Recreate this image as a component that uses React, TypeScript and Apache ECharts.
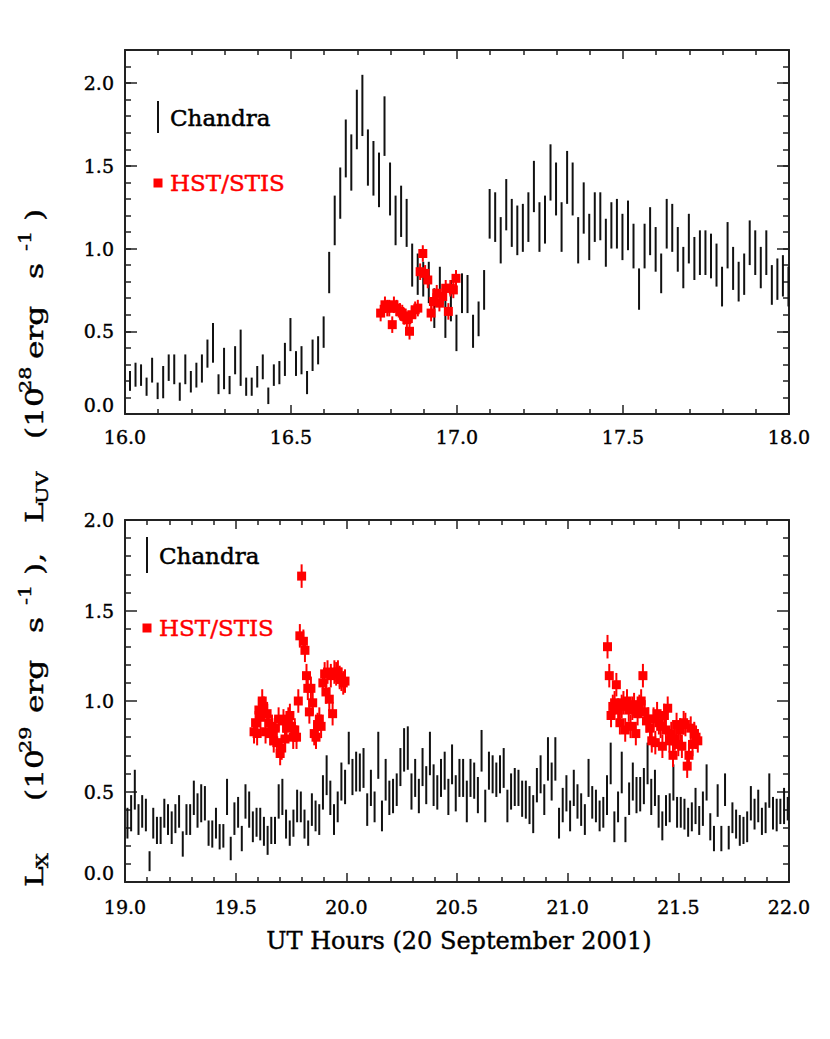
import React, { useEffect, useRef } from 'react';
import * as echarts from 'echarts';

// ---------- data ----------
const BIN_HOURS = 1 / 60; // Chandra 1-minute bins

// Top panel (16-18 UT), Chandra error bars: upper / lower ends (10^28 erg/s)
const chandraTopStart = 16.015;
const chandraTopHi = [
  0.26, 0.31, 0.30, 0.22, 0.34, 0.19, 0.29, 0.36, 0.36, 0.19, 0.36, 0.26, 0.31, 0.36, 0.45, 0.55,
  0.24, 0.40, 0.23, 0.41, 0.51, 0.22, 0.22, 0.29, 0.36, 0.16, 0.30, 0.32, 0.43, 0.58, 0.38, 0.41,
  0.26, 0.45, 0.47, 0.59, 0.98, 1.32, 1.49, 1.78, 1.69, 1.96, 2.05, 1.72, 1.65, 1.58, 1.92, 1.52,
  1.32, 1.38, 1.30, 1.03, 0.97, 0.92, 0.92, 0.76, 0.89, 0.78, 0.81, 0.60, 0.85, 0.84, 0.60, 0.68,
  0.87, 1.36, 1.34, 1.19, 1.42, 1.30, 1.26, 1.27, 1.34, 1.53, 1.28, 1.32, 1.63, 1.52, 1.28, 1.59,
  1.52, 1.19, 1.40, 1.21, 1.34, 1.34, 1.18, 1.28, 1.30, 1.21, 1.29, 1.15, 0.88, 1.15, 1.25, 1.13,
  0.97, 1.30, 1.27, 1.13, 1.01, 1.21, 1.07, 1.11, 1.11, 1.09, 1.03, 0.89, 1.16, 1.01, 0.92, 0.97,
  1.17, 1.11, 1.01, 1.11, 0.90, 0.94, 0.96, 0.89,
];
const chandraTopLo = [
  0.14, 0.165, 0.17, 0.11, 0.19, 0.09, 0.095, 0.20, 0.18, 0.08, 0.18, 0.13, 0.16, 0.19, 0.28, 0.31,
  0.12, 0.15, 0.12, 0.24, 0.17, 0.11, 0.11, 0.16, 0.21, 0.06, 0.17, 0.18, 0.23, 0.38, 0.23, 0.24,
  0.12, 0.26, 0.30, 0.40, 0.73, 1.02, 1.18, 1.43, 1.35, 1.60, 1.68, 1.38, 1.32, 1.25, 1.56, 1.20,
  1.02, 1.07, 1.01, 0.77, 0.72, 0.71, 0.67, 0.52, 0.65, 0.46, 0.56, 0.38, 0.61, 0.61, 0.40, 0.47,
  0.63, 1.06, 1.04, 0.91, 1.11, 1.01, 0.96, 0.98, 1.04, 1.22, 0.98, 1.03, 1.29, 1.20, 0.98, 1.27,
  1.20, 0.91, 1.09, 0.93, 1.04, 1.05, 0.89, 1.00, 1.00, 0.93, 0.99, 0.88, 0.63, 0.88, 0.96, 0.86,
  0.73, 1.00, 0.98, 0.86, 0.76, 0.91, 0.81, 0.84, 0.84, 0.82, 0.77, 0.65, 0.88, 0.75, 0.68, 0.72,
  0.90, 0.84, 0.76, 0.84, 0.66, 0.69, 0.71, 0.65,
];

// Bottom panel (19-22 UT), Chandra error bars (10^29 erg/s)
const chandraBotStart = 19.011;
const chandraBotHi = [
  0.41, 0.48, 0.62, 0.43, 0.48, 0.46, 0.17, 0.41, 0.36, 0.36, 0.46, 0.43, 0.39, 0.43, 0.48, 0.28,
  0.43, 0.43, 0.56, 0.49, 0.54, 0.53, 0.34, 0.34, 0.41, 0.32, 0.32, 0.57, 0.25, 0.44, 0.47, 0.31,
  0.54, 0.50, 0.39, 0.41, 0.41, 0.36, 0.31, 0.36, 0.36, 0.54, 0.57, 0.40, 0.34, 0.40, 0.51, 0.50,
  0.40, 0.34, 0.49, 0.45, 0.43, 0.59, 0.70, 0.56, 0.43, 0.50, 0.66, 0.62, 0.83, 0.68, 0.72, 0.71,
  0.74, 0.49, 0.62, 0.50, 0.83, 0.45, 0.68, 0.56, 0.57, 0.60, 0.74, 0.85, 0.86, 0.60, 0.68, 0.57,
  0.74, 0.64, 0.83, 0.65, 0.59, 0.68, 0.72, 0.57, 0.76, 0.59, 0.68, 0.68, 0.56, 0.68, 0.66, 0.58,
  0.84, 0.51, 0.72, 0.70, 0.66, 0.70, 0.74, 0.51, 0.60, 0.63, 0.62, 0.56, 0.56, 0.53, 0.48, 0.63,
  0.70, 0.54, 0.80, 0.66, 0.80, 0.41, 0.52, 0.59, 0.45, 0.62, 0.54, 0.49, 0.43, 0.68, 0.53, 0.51,
  0.45, 0.47, 0.59, 0.77, 0.39, 0.50, 0.72, 0.36, 0.55, 0.66, 0.58, 0.58, 0.63, 0.77, 0.57, 0.62,
  0.48, 0.39, 0.48, 0.49, 0.65, 0.47, 0.47, 0.46, 0.41, 0.44, 0.52, 0.42, 0.50, 0.65, 0.38, 0.31,
  0.54, 0.31, 0.60, 0.31, 0.44, 0.40, 0.37, 0.36, 0.39, 0.53, 0.46, 0.51, 0.41, 0.44, 0.60, 0.47,
  0.46, 0.46, 0.52, 0.47,
];
const chandraBotLo = [
  0.24, 0.28, 0.40, 0.26, 0.30, 0.28, 0.06, 0.24, 0.21, 0.21, 0.30, 0.26, 0.21, 0.27, 0.30, 0.14,
  0.26, 0.26, 0.37, 0.30, 0.33, 0.34, 0.20, 0.19, 0.24, 0.18, 0.19, 0.37, 0.12, 0.26, 0.30, 0.17,
  0.35, 0.30, 0.22, 0.25, 0.23, 0.20, 0.15, 0.21, 0.21, 0.35, 0.37, 0.24, 0.20, 0.25, 0.33, 0.33,
  0.24, 0.20, 0.31, 0.28, 0.26, 0.40, 0.48, 0.37, 0.26, 0.33, 0.45, 0.43, 0.65, 0.48, 0.50, 0.50,
  0.52, 0.31, 0.42, 0.33, 0.57, 0.28, 0.45, 0.37, 0.38, 0.42, 0.53, 0.61, 0.62, 0.40, 0.47, 0.38,
  0.53, 0.43, 0.59, 0.42, 0.40, 0.47, 0.51, 0.37, 0.54, 0.39, 0.47, 0.47, 0.33, 0.47, 0.46, 0.38,
  0.61, 0.33, 0.51, 0.49, 0.47, 0.49, 0.52, 0.33, 0.40, 0.42, 0.42, 0.36, 0.35, 0.32, 0.27, 0.44,
  0.49, 0.37, 0.56, 0.45, 0.56, 0.24, 0.33, 0.39, 0.28, 0.42, 0.35, 0.31, 0.26, 0.47, 0.35, 0.33,
  0.28, 0.30, 0.37, 0.54, 0.22, 0.33, 0.49, 0.22, 0.37, 0.45, 0.38, 0.39, 0.43, 0.54, 0.37, 0.42,
  0.30, 0.23, 0.31, 0.33, 0.45, 0.30, 0.30, 0.29, 0.25, 0.28, 0.32, 0.26, 0.31, 0.45, 0.23, 0.17,
  0.36, 0.17, 0.42, 0.18, 0.27, 0.24, 0.20, 0.21, 0.22, 0.34, 0.29, 0.33, 0.26, 0.27, 0.41, 0.29,
  0.28, 0.32, 0.32, 0.34,
];

// HST/STIS points (time in UT hours, luminosity)
const hstTopT = [
  16.770, 16.783, 16.790, 16.796, 16.805, 16.810, 16.818, 16.828, 16.835, 16.841, 16.849, 16.857,
  16.864, 16.874, 16.882, 16.889, 16.897, 16.904, 16.912, 16.922, 16.929, 16.939, 16.947, 16.957,
  16.966, 16.974, 16.980, 16.989, 16.997,
];
const hstTopV = [
  0.61, 0.66, 0.64, 0.64, 0.54, 0.66, 0.64, 0.62, 0.61, 0.59, 0.57, 0.50,
  0.60, 0.63, 0.64, 0.86, 0.97, 0.85, 0.81, 0.61, 0.68, 0.73, 0.67, 0.71,
  0.76, 0.62, 0.76, 0.75, 0.82,
];
const hstBotT = [
  19.583, 19.590, 19.597, 19.605, 19.612, 19.620, 19.627, 19.635, 19.642, 19.650, 19.657, 19.664,
  19.672, 19.679, 19.686, 19.694, 19.701, 19.708, 19.716, 19.723, 19.730, 19.738, 19.745, 19.752,
  19.760, 19.767, 19.775, 19.783, 19.790, 19.798, 19.806, 19.813, 19.820, 19.826, 19.833, 19.840,
  19.848, 19.855, 19.863, 19.870, 19.878, 19.886, 19.894, 19.902, 19.908, 19.915, 19.923, 19.930,
  19.938, 19.946, 19.954, 19.962, 19.970, 19.978, 19.986, 19.994,
  21.180, 21.188, 21.196, 21.204, 21.212, 21.220, 21.228, 21.236, 21.244, 21.252, 21.260, 21.268,
  21.276, 21.284, 21.292, 21.300, 21.308, 21.316, 21.324, 21.332, 21.340, 21.348, 21.356, 21.364,
  21.372, 21.380, 21.388, 21.396, 21.404, 21.412, 21.420, 21.428, 21.436, 21.444, 21.452, 21.460,
  21.468, 21.476, 21.484, 21.492, 21.500, 21.508, 21.516, 21.524, 21.532, 21.540, 21.548, 21.556,
  21.564, 21.572, 21.580, 21.588,
];
const hstBotV = [
  0.83, 0.88, 0.82, 0.95, 0.91, 1.00, 0.96, 0.83, 0.93, 0.88, 0.82, 0.86,
  0.78, 0.85, 0.77, 0.90, 0.71, 0.74, 0.89, 0.79, 0.85, 0.90, 0.92, 0.86,
  0.80, 0.84, 0.80, 1.00, 1.36, 1.69, 1.33, 1.28, 1.14, 1.07, 0.94, 1.07,
  0.99, 0.82, 0.80, 0.87, 0.90, 0.86, 1.10, 1.15, 1.05, 1.16, 1.01, 1.14,
  0.93, 1.16, 1.15, 1.16, 1.13, 1.12, 1.10, 1.11,
  1.30, 1.14, 0.92, 0.97, 0.99, 1.09, 0.95, 0.88, 0.97, 0.99, 0.84, 1.00,
  0.95, 0.86, 0.96, 0.98, 0.82, 0.93, 0.97, 1.00, 1.14, 0.94, 0.89, 0.90,
  0.85, 0.78, 0.90, 0.77, 0.93, 0.88, 0.86, 0.75, 0.92, 0.84, 0.96, 0.78,
  0.82, 0.70, 0.79, 0.87, 0.76, 0.84, 0.75, 0.88, 0.87, 0.64, 0.70, 0.85,
  0.76, 0.82, 0.80, 0.78,
];
const hstTopErr = 0.05;
const hstBotErr = 0.065;

// Axes
const topXRange = [16, 18];
const botXRange = [19, 22];
const topYRange = [0, 2.2];
const botYRange = [0, 2];
const majorStep = 0.5;
const minorStep = 0.1;

const legendLabels = ['Chandra', 'HST/STIS'];
const xTitle = 'UT Hours (20 September 2001)';
// y title pieces; k = normal / subscript / superscript
const yTitleParts: { t: string; k: 'n' | 'sub' | 'sup' }[] = [
  { t: 'L', k: 'n' }, { t: 'X', k: 'sub' }, { t: '(10', k: 'n' }, { t: '29', k: 'sup' },
  { t: 'erg', k: 'n' }, { t: 's', k: 'n' }, { t: '-1', k: 'sup' }, { t: '),', k: 'n' },
  { t: 'L', k: 'n' }, { t: 'UV', k: 'sub' }, { t: '(10', k: 'n' }, { t: '28', k: 'sup' },
  { t: 'erg', k: 'n' }, { t: 's', k: 'n' }, { t: '-1', k: 'sup' }, { t: ')', k: 'n' },
];
// distance (px) of each piece from the start of the title, along the text
const yTitleOffsets = [6, 25, 92, 140, 180, 260, 288, 318, 370, 389, 454, 500, 534, 614, 642, 672];

// ---------- layout / style ----------
const FONT = '"DejaVu Serif", "Liberation Serif", serif';
const GRID_TOP = { left: 125, top: 50, width: 664, height: 364 };
const GRID_BOT = { left: 125, top: 520, width: 664, height: 362 };
const AXIS_COLOR = '#222';

function fmt(v: number) {
  return v.toFixed(1);
}

const tickLabel = {
  color: '#000', fontFamily: FONT, fontSize: 19, textBorderColor: '#000', textBorderWidth: 0.4,
};

function xAxisDef(grid: number, range: number[], pos: 'bottom' | 'top', labels: boolean, margin: number) {
  return {
    type: 'value', gridIndex: grid, position: pos, min: range[0], max: range[1], interval: majorStep,
    axisLine: { show: true, onZero: false, lineStyle: { color: AXIS_COLOR, width: 2 } },
    axisTick: { show: true, inside: true, length: 9, lineStyle: { color: AXIS_COLOR, width: 1.5 } },
    minorTick: { show: true, splitNumber: 5, length: 5, lineStyle: { color: AXIS_COLOR, width: 1.5 } },
    splitLine: { show: false }, minorSplitLine: { show: false },
    axisLabel: { show: labels, formatter: fmt, margin, ...tickLabel },
  };
}

function yAxisDef(grid: number, range: number[], pos: 'left' | 'right', labels: boolean, opts: any = {}) {
  return {
    type: 'value', gridIndex: grid, position: pos, min: range[0], max: range[1], interval: majorStep,
    axisLine: { show: true, onZero: false, lineStyle: { color: AXIS_COLOR, width: 2 } },
    axisTick: { show: true, inside: true, length: 12, lineStyle: { color: AXIS_COLOR, width: 1.5 } },
    minorTick: { show: !!opts.minor, splitNumber: 5, length: 6, lineStyle: { color: AXIS_COLOR, width: 1.5 } },
    splitLine: { show: false }, minorSplitLine: { show: false },
    axisLabel: {
      show: labels, formatter: fmt, margin: 11, ...tickLabel,
      showMaxLabel: opts.showMax !== false, verticalAlignMinLabel: 'bottom',
    },
  };
}

function yMinorAxisDef(grid: number, range: number[], pos: 'left' | 'right') {
  return {
    type: 'value', gridIndex: grid, position: pos, min: range[0], max: range[1], interval: minorStep,
    axisLine: { show: false },
    axisTick: { show: true, inside: true, length: 6, lineStyle: { color: AXIS_COLOR, width: 1.5 } },
    splitLine: { show: false },
    axisLabel: { show: false },
  };
}

function errBarItem(_p: any, api: any) {
  const t = api.value(0);
  const a = api.coord([t, api.value(1)]);
  const b = api.coord([t, api.value(2)]);
  return {
    type: 'line',
    shape: { x1: a[0], y1: a[1], x2: b[0], y2: b[1] },
    style: { stroke: '#111', lineWidth: 2 },
  };
}

function hstItem(_p: any, api: any) {
  const t = api.value(0);
  const v = api.value(1);
  const e = api.value(2);
  const c = api.coord([t, v]);
  const hi = api.coord([t, v + e]);
  const lo = api.coord([t, v - e]);
  return {
    type: 'group',
    children: [
      { type: 'line', shape: { x1: c[0], y1: hi[1], x2: c[0], y2: lo[1] }, style: { stroke: '#ff0000', lineWidth: 2 } },
      { type: 'rect', shape: { x: c[0] - 4.5, y: c[1] - 4.5, width: 9, height: 9 }, style: { fill: '#ff0000' } },
    ],
  };
}

function buildYTitle() {
  const main = 24;
  const small = 16;
  const glyphScale = 1.3;
  const children = yTitleParts.map((p, i) => ({
    type: 'text',
    x: yTitleOffsets[i] / glyphScale,
    y: p.k === 'sub' ? 7 : p.k === 'sup' ? -10 : 0,
    style: {
      text: p.t, fill: '#000', fontFamily: FONT, fontSize: p.k === 'n' ? main : small,
      align: 'left', verticalAlign: 'middle', stroke: '#000', lineWidth: 0.4,
    },
  }));
  return {
    type: 'group', x: 35, y: 893, rotation: Math.PI / 2, scaleX: glyphScale, scaleY: 1,
    children,
  };
}

function legend(lineX: number, lineY1: number, lineY2: number, textX: number, chY: number, hstY: number) {
  return [
    { type: 'line', shape: { x1: lineX, y1: lineY1, x2: lineX, y2: lineY2 }, style: { stroke: '#111', lineWidth: 2 } },
    {
      type: 'text', x: textX, y: chY,
      style: {
        text: legendLabels[0], fill: '#000', fontFamily: FONT, fontSize: 23, align: 'left', verticalAlign: 'middle',
        stroke: '#000', lineWidth: 0.5,
      },
    },
    { type: 'rect', shape: { x: lineX - 4.5, y: hstY - 4.5, width: 9, height: 9 }, style: { fill: '#ff0000' } },
    {
      type: 'text', x: textX, y: hstY,
      style: {
        text: legendLabels[1], fill: '#ff0000', fontFamily: FONT, fontSize: 23, align: 'left', verticalAlign: 'middle',
        stroke: '#ff0000', lineWidth: 0.5,
      },
    },
  ];
}

export default function App() {
  const ref = useRef<HTMLDivElement>(null);

  useEffect(() => {
    if (!ref.current) return;
    const chart = echarts.init(ref.current, undefined, { renderer: 'svg' });

    const topCh = chandraTopHi.map((h, i) => [chandraTopStart + i * BIN_HOURS, chandraTopLo[i], h]);
    const botCh = chandraBotHi.map((h, i) => [chandraBotStart + i * BIN_HOURS, chandraBotLo[i], h]);
    const topHst = hstTopT.map((t, i) => [t, hstTopV[i], hstTopErr]);
    const botHst = hstBotT.map((t, i) => [t, hstBotV[i], hstBotErr]);

    chart.setOption({
      animation: false,
      backgroundColor: '#fff',
      grid: [
        { ...GRID_TOP, containLabel: false, outerBoundsMode: 'none' },
        { ...GRID_BOT, containLabel: false, outerBoundsMode: 'none' },
      ],
      xAxis: [
        xAxisDef(0, topXRange, 'bottom', true, 13),
        xAxisDef(0, topXRange, 'top', false, 13),
        xAxisDef(1, botXRange, 'bottom', true, 15),
        xAxisDef(1, botXRange, 'top', false, 15),
      ],
      yAxis: [
        yAxisDef(0, topYRange, 'left', true, { showMax: false }),
        yAxisDef(0, topYRange, 'right', false),
        yMinorAxisDef(0, topYRange, 'left'),
        yMinorAxisDef(0, topYRange, 'right'),
        yAxisDef(1, botYRange, 'left', true, { minor: true }),
        yAxisDef(1, botYRange, 'right', false, { minor: true }),
      ],
      series: [
        { type: 'custom', xAxisIndex: 0, yAxisIndex: 0, data: topCh, renderItem: errBarItem, silent: true, encode: { x: 0, y: [1, 2] } },
        { type: 'custom', xAxisIndex: 0, yAxisIndex: 0, data: topHst, renderItem: hstItem, silent: true, z: 3, encode: { x: 0, y: 1 } },
        { type: 'custom', xAxisIndex: 2, yAxisIndex: 4, data: botCh, renderItem: errBarItem, silent: true, encode: { x: 0, y: [1, 2] } },
        { type: 'custom', xAxisIndex: 2, yAxisIndex: 4, data: botHst, renderItem: hstItem, silent: true, z: 3, encode: { x: 0, y: 1 } },
      ],
      graphic: [
        ...legend(158, 101, 133, 170, 118, 183),
        ...legend(147, 537, 573, 159, 556, 628),
        {
          type: 'text', x: 459, y: 941,
          style: {
            text: xTitle, fill: '#000', fontFamily: FONT, fontSize: 24, align: 'center', verticalAlign: 'middle',
            stroke: '#000', lineWidth: 0.4,
          },
        },
        buildYTitle(),
      ],
    });

    return () => chart.dispose();
  }, []);

  return (
    <div
      ref={ref}
      style={{ position: 'absolute', left: 0, top: 0, width: 830, height: 1039, background: '#fff' }}
    />
  );
}
